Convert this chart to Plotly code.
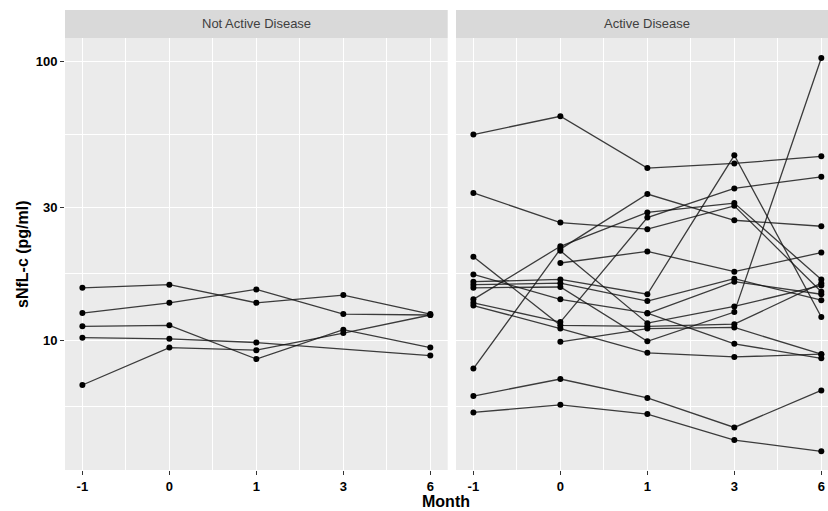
import plotly.graph_objects as go
import math

months = ["-1", "0", "1", "3", "6"]
y_ticks = [10, 30, 100]
panel_titles = ["Not Active Disease", "Active Disease"]

# sNfL-c (pg/ml) per subject at months -1, 0, 1, 3, 6 (None = not measured)
not_active = [
    [15.4, 15.8, 13.6, 14.5, 12.4],
    [12.5, 13.6, 15.2, 12.4, 12.3],
    [11.2, 11.3, 8.55, 10.9, 9.4],
    [10.2, 10.1, 9.8, None, 8.8],
    [6.9, 9.4, 9.2, 10.6, 12.3],
]

active = [
    [54.6, 63.5, 41.4, 43.0, 45.6],
    [33.7, 26.4, 25.0, 30.3, 14.9],
    [19.9, 11.3, 11.2, 11.4, 16.0],
    [17.2, 14.0, 12.5, 9.7, 8.6],
    [16.2, 16.5, 14.6, 46.0, 12.1],
    [15.8, 16.0, 13.8, 16.6, 13.9],
    [15.4, 15.5, 9.9, 12.6, 102.8],
    [14.0, 21.7, 28.7, 31.0, 16.5],
    [13.6, 11.6, 27.5, 35.0, 38.5],
    [13.3, 11.0, 9.0, 8.7, 8.9],
    [7.9, 21.2, 33.4, 26.9, 25.6],
    [6.3, 7.25, 6.2, 4.86, 6.6],
    [5.5, 5.86, 5.43, 4.38, 3.99],
    [None, 18.9, 20.8, 17.6, 20.6],
    [None, 9.86, 11.0, 11.1, 8.9],
    [None, None, 12.45, 16.2, 14.6],
    [None, 20.9, 11.5, 13.2, 15.7],
]

xpos = list(range(len(months)))

fig = go.Figure()
for axis_suffix, group in (("", not_active), ("2", active)):
    for subj in group:
        fig.add_trace(go.Scatter(
            x=xpos, y=subj, mode="lines+markers", connectgaps=True,
            xaxis="x" + axis_suffix, yaxis="y" + axis_suffix,
            line=dict(color="rgba(20,20,20,0.82)", width=1.3),
            marker=dict(color="black", size=6),
            showlegend=False, hoverinfo="skip",
        ))

W, H = 828, 511
ml, mr, mt, mb = 65, 0, 38, 41
pw = W - ml - mr
ph = H - mt - mb
left_dom = [0, (447.7 - ml) / pw]
right_dom = [(456 - ml) / pw, 1]

minor_x = [i + 0.5 for i in xpos[:-1]]
minor_y = [y_ticks[0] / math.sqrt(y_ticks[1] / y_ticks[0])] + \
          [math.sqrt(a * b) for a, b in zip(y_ticks[:-1], y_ticks[1:])]

font_family = "Liberation Sans, Arial, sans-serif"
tickfont = dict(family=font_family, size=13, color="black", weight="bold")

def xaxis(domain, rng, anchor):
    return dict(
        domain=domain, range=rng, anchor=anchor,
        tickvals=xpos, ticktext=months, tickfont=tickfont,
        ticks="outside", ticklen=4, tickwidth=1, tickcolor="#333333",
        showgrid=True, gridcolor="white", gridwidth=1.4,
        minor=dict(tickvals=minor_x, showgrid=True, gridcolor="white",
                   gridwidth=0.7, ticks=""),
        zeroline=False, showline=False,
    )

def yaxis(anchor, labels):
    return dict(
        type="log", range=[0.534, 2.0835], anchor=anchor,
        domain=[0, 1],
        tickvals=y_ticks, ticktext=[str(v) for v in y_ticks],
        showticklabels=labels, tickfont=tickfont,
        ticks="outside" if labels else "", ticklen=4, tickwidth=1,
        tickcolor="#333333",
        showgrid=True, gridcolor="white", gridwidth=1.4,
        minor=dict(tickvals=minor_y, showgrid=True, gridcolor="white",
                   gridwidth=0.7, ticks=""),
        zeroline=False, showline=False,
    )

right_hi = (xpos[-1]) + (W - 821.3) / 87.0

fig.update_layout(
    width=W, height=H,
    margin=dict(l=ml, r=mr, t=mt, b=mb, pad=0),
    paper_bgcolor="white", plot_bgcolor="#EBEBEB",
    font=dict(family=font_family, color="black"),
    xaxis=xaxis(left_dom, [-0.2, xpos[-1] + 0.2], "y"),
    xaxis2=xaxis(right_dom, [-0.2, right_hi], "y2"),
    yaxis=yaxis("x", True),
    yaxis2=yaxis("x2", False),
    showlegend=False,
)

strip_h = 28 / ph
shapes = []
annotations = []
for dom, title in zip((left_dom, right_dom), panel_titles):
    shapes.append(dict(type="rect", xref="paper", yref="paper",
                       x0=dom[0], x1=dom[1], y0=1, y1=1 + strip_h,
                       fillcolor="#D9D9D9", line=dict(width=0), layer="below"))
cx_left = (left_dom[0] + left_dom[1]) / 2
cx_right = ((647 - ml) / pw)
for cx, title in zip((cx_left, cx_right), panel_titles):
    annotations.append(dict(text=title, xref="paper", yref="paper",
                            x=cx, y=1 + strip_h / 2, xanchor="center",
                            yanchor="middle", showarrow=False,
                            font=dict(family=font_family, size=13, color="#404040")))
annotations.append(dict(text="sNfL-c (pg/ml)", xref="paper", yref="paper",
                        x=(22 - ml) / pw, y=0.5, textangle=-90,
                        xanchor="center", yanchor="middle", showarrow=False,
                        font=dict(family=font_family, size=16, color="black",
                                  weight="bold")))
annotations.append(dict(text="Month", xref="paper", yref="paper",
                        x=(446 - ml) / pw, y=-(501 - (H - mb)) / ph,
                        xanchor="center", yanchor="middle", showarrow=False,
                        font=dict(family=font_family, size=16, color="black",
                                  weight="bold")))
fig.update_layout(shapes=shapes, annotations=annotations)

fig.write_html(
    "out.html",
    config={"displayModeBar": False},
    post_script="document.body.style.margin='0';document.body.style.overflow='hidden';",
)
